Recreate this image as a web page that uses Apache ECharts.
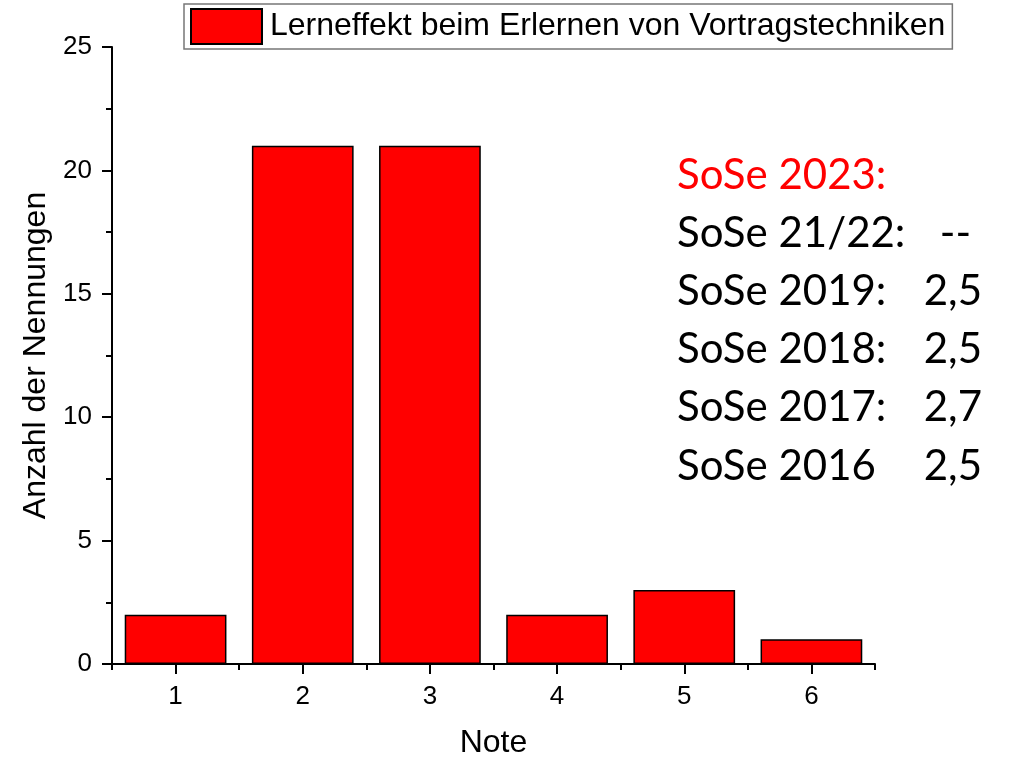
<!DOCTYPE html>
<html>
<head>
<meta charset="utf-8">
<title>Lerneffekt</title>
<script src="https://cdn.jsdelivr.net/npm/echarts@6/dist/echarts.min.js"></script>
<style>
  html, body { margin: 0; padding: 0; background: #fff; }
  #main { width: 1013px; height: 759px; }
</style>
</head>
<body>
<div id="main"></div>
<script>
// data
const noten = ['1', '2', '3', '4', '5', '6'];
const nennungen = [2, 21, 21, 2, 3, 1];
const yTicks = [0, 5, 10, 15, 20, 25];
const semester = ['SoSe 2023:', 'SoSe 21/22:', 'SoSe 2019:', 'SoSe 2018:', 'SoSe 2017:', 'SoSe 2016'];
const mittelwerte = ['', '--', '2,5', '2,5', '2,7', '2,5'];

const axisFont = 'Liberation Sans, Arial, sans-serif';
const noteFont = 'Lato, Open Sans, sans-serif';

var chartDom = document.getElementById('main');
var myChart = echarts.init(chartDom);

// right hand text block
let texts = [];
for (let i = 0; i < semester.length; i++) {
  let col = i === 0 ? '#ff0000' : '#000';
  texts.push({
    type: 'text', left: 677, top: 154 + i * 58.2,
    style: { text: semester[i], fill: col, font: '42px ' + noteFont }
  });
  if (mittelwerte[i]) {
    texts.push({
      type: 'text', right: 1013 - (i === 1 ? 971 : 982), top: 154 + i * 58.2,
      style: { text: mittelwerte[i], fill: col, font: '42px ' + noteFont }
    });
  }
}

var option = {
  animation: false,
  textStyle: { fontFamily: axisFont },
  grid: { left: 112, right: 138, top: 47, bottom: 95, containLabel: false, outerBoundsMode: 'none' },
  legend: {
    left: 184, top: 4,
    padding: [4, 7, 4, 6],
    itemWidth: 71, itemHeight: 35,
    backgroundColor: '#fff',
    borderColor: '#777', borderWidth: 1.5, borderRadius: 0,
    icon: 'rect',
    textStyle: { fontSize: 32, color: '#000', fontFamily: axisFont, padding: [0, 0, 0, 3] }
  },
  xAxis: [
    {
      type: 'category', data: noten, position: 'bottom',
      name: 'Note', nameLocation: 'middle', nameGap: 63,
      nameTextStyle: { fontSize: 32, color: '#000' },
      axisLine: { lineStyle: { color: '#000', width: 2 } },
      axisTick: { show: true, alignWithLabel: true, length: 10, lineStyle: { color: '#000', width: 2 } },
      axisLabel: { fontSize: 26, color: '#000', margin: 20 }
    },
    {
      // short ticks at the category boundaries
      type: 'category', data: noten, position: 'bottom',
      axisLine: { show: false },
      axisTick: { show: true, length: 6, lineStyle: { color: '#000', width: 2 } },
      axisLabel: { show: false }
    }
  ],
  yAxis: {
    type: 'value', min: yTicks[0], max: yTicks[yTicks.length - 1], interval: 5,
    name: 'Anzahl der Nennungen', nameLocation: 'middle', nameGap: 54,
    nameTextStyle: { fontSize: 32, color: '#000' },
    axisLine: { show: true, lineStyle: { color: '#000', width: 2 } },
    axisTick: { show: true, length: 10, lineStyle: { color: '#000', width: 2 } },
    minorTick: { show: true, splitNumber: 2, length: 6, lineStyle: { color: '#000', width: 2 } },
    splitLine: { show: false },
    axisLabel: { fontSize: 26, color: '#000', margin: 20 }
  },
  graphic: texts,
  series: [
    {
      name: 'Lerneffekt beim Erlernen von Vortragstechniken',
      type: 'bar',
      data: nennungen,
      barCategoryGap: '20%',
      itemStyle: { color: '#ff0000', borderColor: '#000', borderWidth: 1.5 }
    }
  ]
};

myChart.setOption(option);
</script>
</body>
</html>
